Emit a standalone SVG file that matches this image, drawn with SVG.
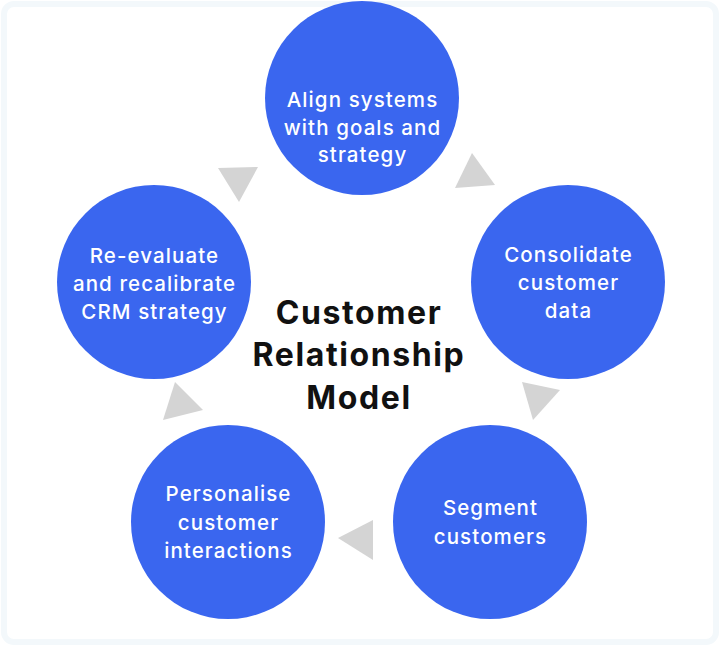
<svg xmlns="http://www.w3.org/2000/svg" width="720" height="646" viewBox="0 0 720 646">
<style>
.node{fill:#3a66ef}
.lbl{font-family:Inter,"Noto Sans",sans-serif;font-size:20.5px;letter-spacing:1.1px;fill:#ffffff;text-anchor:middle;font-weight:500}
.title{font-family:Inter,"Noto Sans",sans-serif;font-size:32px;letter-spacing:1.6px;font-weight:700;fill:#111111;text-anchor:middle}
.tri{fill:#d4d4d4}
</style>
<rect x="0" y="0" width="720" height="646" fill="#ffffff"/>
<rect x="4" y="4" width="712" height="638" rx="10" fill="#ffffff" stroke="#f3f8fb" stroke-width="6"/>
<g id="connectors">
<polygon class="tri" points="218,168 258,167 239,202"/>
<polygon class="tri" points="472,153 455,188 495,185"/>
<polygon class="tri" points="522,382 560,390 533,420"/>
<polygon class="tri" points="373,520 338,538 373,560"/>
<polygon class="tri" points="175,382 163,420 203,410"/>
</g>
<g id="align">
<circle class="node" cx="362" cy="98" r="97"/>
<text class="lbl" x="362.5" y="107">Align systems</text>
<text class="lbl" x="362.5" y="135">with goals and</text>
<text class="lbl" x="362.5" y="162">strategy</text>
</g>
<g id="consolidate">
<circle class="node" cx="568" cy="282" r="97"/>
<text class="lbl" x="568.5" y="262">Consolidate</text>
<text class="lbl" x="568.5" y="290">customer</text>
<text class="lbl" x="568.5" y="318">data</text>
</g>
<g id="segment">
<circle class="node" cx="490" cy="522" r="97"/>
<text class="lbl" x="490.5" y="515">Segment</text>
<text class="lbl" x="490.5" y="544">customers</text>
</g>
<g id="personalise">
<circle class="node" cx="228" cy="522" r="97"/>
<text class="lbl" x="228.5" y="501">Personalise</text>
<text class="lbl" x="228.5" y="530">customer</text>
<text class="lbl" x="228.5" y="558">interactions</text>
</g>
<g id="reevaluate">
<circle class="node" cx="154" cy="282" r="97"/>
<text class="lbl" x="154.5" y="263">Re-evaluate</text>
<text class="lbl" x="154.5" y="291">and recalibrate</text>
<text class="lbl" x="154.5" y="319">CRM strategy</text>
</g>
<g id="center">
<text class="title" x="359" y="324">Customer</text>
<text class="title" x="359" y="366">Relationship</text>
<text class="title" x="359" y="409">Model</text>
</g>
</svg>
